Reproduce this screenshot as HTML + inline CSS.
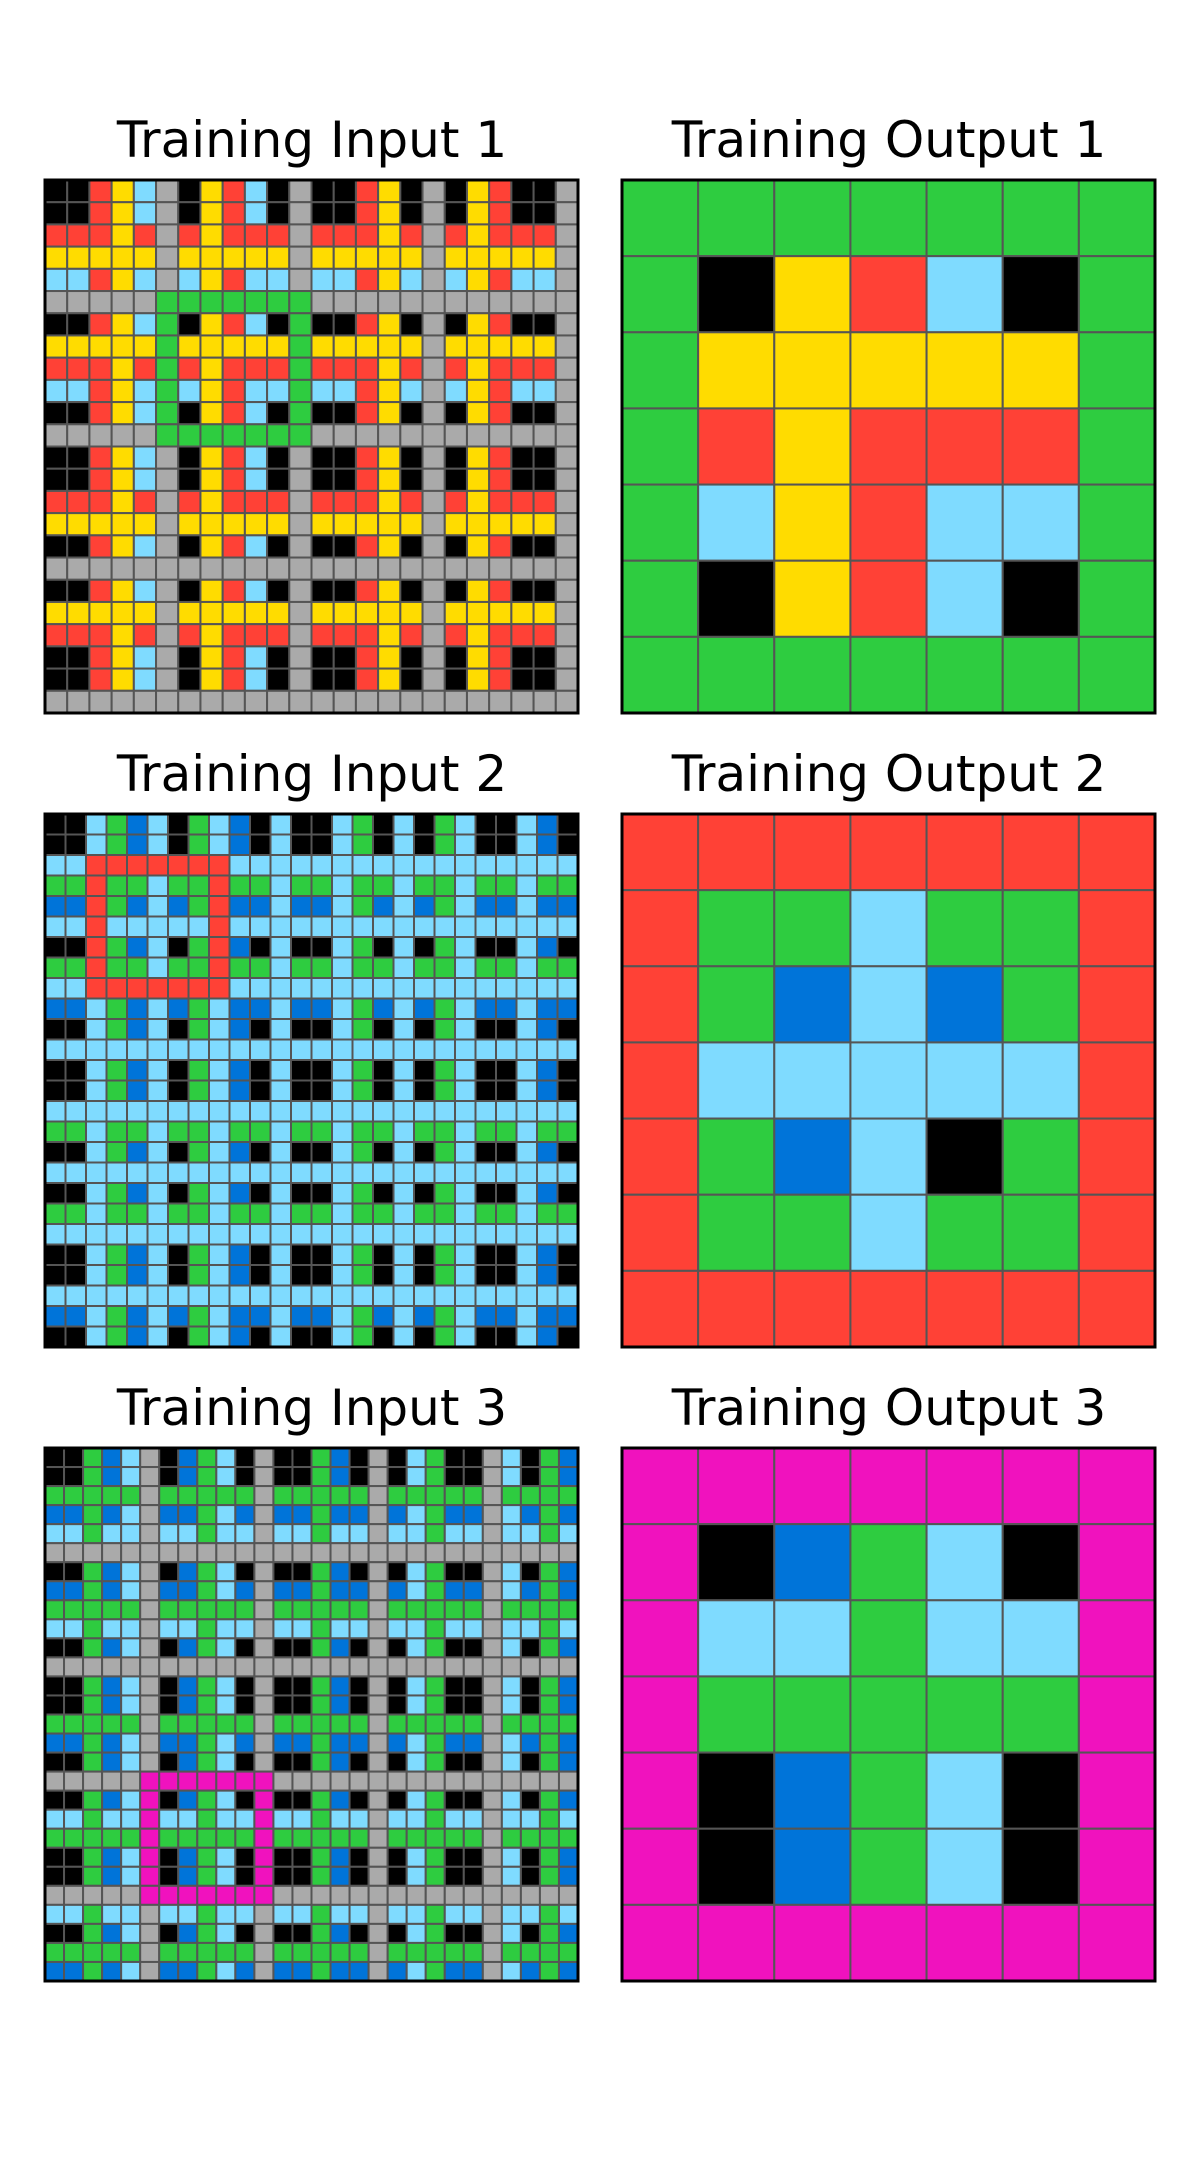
<!DOCTYPE html>
<html><head><meta charset="utf-8"><style>
html,body{margin:0;padding:0;background:#fff;}
body{width:1200px;height:2160px;position:relative;overflow:hidden;font-family:"DejaVu Sans","Liberation Sans",sans-serif;}
.t{position:absolute;width:600px;text-align:center;font-size:50px;line-height:56px;color:#000;}
svg{position:absolute;left:0;top:0;}
</style></head><body>
<div class="t" style="left:12px;top:112px">Training Input 1</div>
<div class="t" style="left:589px;top:112px">Training Output 1</div>
<div class="t" style="left:12px;top:746px">Training Input 2</div>
<div class="t" style="left:589px;top:746px">Training Output 2</div>
<div class="t" style="left:12px;top:1380px">Training Input 3</div>
<div class="t" style="left:589px;top:1380px">Training Output 3</div>
<svg id="s" width="1200" height="2160" xmlns="http://www.w3.org/2000/svg"></svg>
<script>
var C={K:"#000000",R:"#FF4136",Y:"#FFDC00",B:"#7FDBFF",A:"#AAAAAA",N:"#2ECC40",D:"#0074D9",M:"#F012BE"};
function prod(types,prio,ov,oc){
  var t=types.split(" "),n=t.length,g=[];
  for(var r=0;r<n;r++){g.push([]);for(var c=0;c<n;c++){
    var a=t[r],b=t[c];g[r].push(prio.indexOf(a)<prio.indexOf(b)?a:b);}}
  var r0=ov[0],c0=ov[1],r1=ov[2],c1=ov[3];
  for(var r=r0;r<=r1;r++)for(var c=c0;c<=c1;c++){
    if(r==r0||r==r1||c==c0||c==c1)g[r][c]=oc;}
  return g;
}
function out(border,inner){
  var g=[];for(var r=0;r<7;r++){g.push([]);for(var c=0;c<7;c++){
    g[r].push((r==0||r==6||c==0||c==6)?border:inner[r-1][c-1]);}}
  return g;
}
var s="";
function draw(g,x,y,size){
  var n=g.length,cs=size/n;
  for(var r=0;r<n;r++)for(var c=0;c<n;c++){
    s+='<rect x="'+(x+c*cs)+'" y="'+(y+r*cs)+'" width="'+cs+'" height="'+cs+'" fill="'+C[g[r][c]]+'" stroke="#555" stroke-width="2"/>';
  }
  s+='<rect x="'+x+'" y="'+y+'" width="'+size+'" height="'+size+'" fill="none" stroke="#000" stroke-width="3"/>';
}
var g1=prod("K K R Y B A K Y R B K A K K R Y K A K Y R K K A","AYRBK",[5,5,11,11],"N");
var g2=prod("K K B N D B K N B D K B K K B N K B K N B K K B D K","BNDK",[2,2,8,8],"R");
var g3=prod("K K N D B A K D N B K A K K N D K A K B N K K A B K N D","ANBDK",[17,5,23,11],"M");
var o1=out("N",["KYRBK","YYYYY","RYRRR","BYRBB","KYRBK"]);
var o2=out("R",["NNBNN","NDBDN","BBBBB","NDBKN","NNBNN"]);
var o3=out("M",["KDNBK","BBNBB","NNNNN","KDNBK","KDNBK"]);
var S=533;
draw(g1,45,180,S);draw(o1,622,180,S);
draw(g2,45,814,S);draw(o2,622,814,S);
draw(g3,45,1448,S);draw(o3,622,1448,S);
document.getElementById("s").innerHTML=s;
</script>
</body></html>
